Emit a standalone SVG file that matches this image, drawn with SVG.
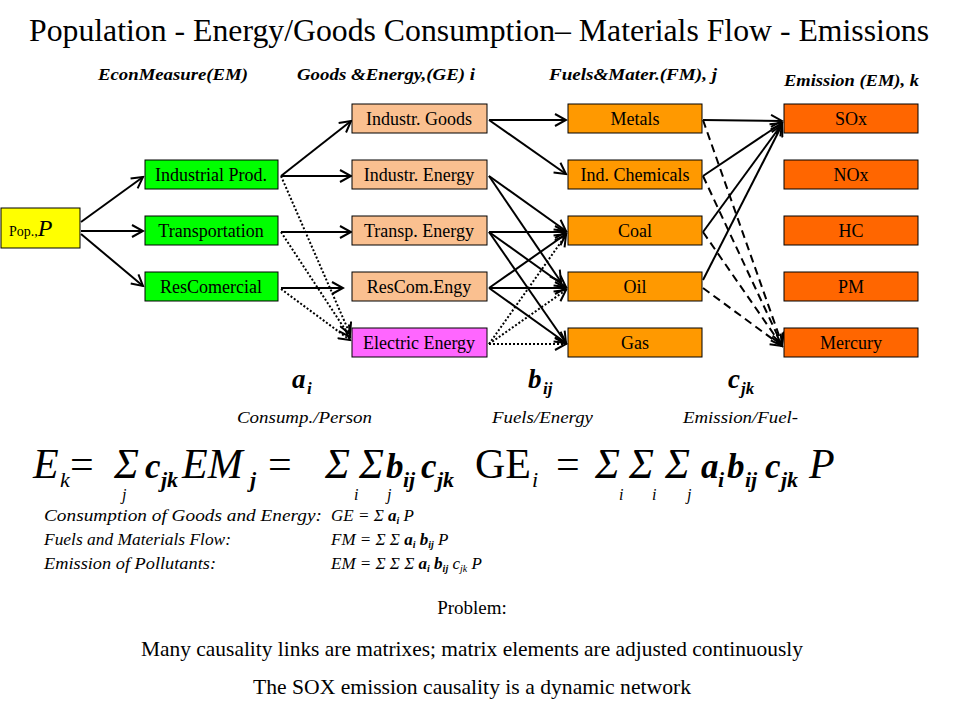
<svg xmlns="http://www.w3.org/2000/svg" width="960" height="720" viewBox="0 0 960 720">
<style>
text{font-family:"Liberation Serif","DejaVu Serif",serif;fill:#000}
.box{stroke:#000;stroke-width:1}
.lbl{font-size:18px;text-anchor:middle}
.hdr{font-size:16px;font-style:italic;font-weight:bold}
.it{font-style:italic}
.bi{font-style:italic;font-weight:bold}
.solid{stroke:#000;stroke-width:2;fill:none;marker-end:url(#arr)}
.dot{stroke:#000;stroke-width:2;fill:none;stroke-dasharray:2,2;marker-end:url(#arr)}
.dash{stroke:#000;stroke-width:2;fill:none;stroke-dasharray:8,5;marker-end:url(#arr)}
.f{font-size:42px}
.fs{font-size:22px}
.fi{font-size:16px;font-style:italic}
.fb{font-size:35px;font-style:italic;font-weight:bold}
.fbs{font-size:22px;font-style:italic;font-weight:bold}
.sm{font-size:17px;font-style:italic}
</style>
<defs>
<marker id="arr" markerUnits="userSpaceOnUse" markerWidth="14" markerHeight="14" refX="12" refY="7" orient="auto">
<path d="M1,1 L12,7 L1,13" fill="none" stroke="#000" stroke-width="2"/>
</marker>
</defs>
<rect width="960" height="720" fill="#fff"/>
<g font-family="Liberation Serif, DejaVu Serif, serif">
<text x="29" y="41" font-size="32" textLength="900" lengthAdjust="spacingAndGlyphs">Population - Energy/Goods Consumption– Materials Flow - Emissions</text>

<text class="hdr" x="98" y="80" textLength="150" lengthAdjust="spacingAndGlyphs">EconMeasure(EM)</text>
<text class="hdr" x="297" y="80" textLength="178" lengthAdjust="spacingAndGlyphs">Goods &amp;Energy,(GE) i</text>
<text class="hdr" x="549" y="80" textLength="168" lengthAdjust="spacingAndGlyphs">Fuels&amp;Mater.(FM), j</text>
<text class="hdr" x="784" y="86" textLength="135" lengthAdjust="spacingAndGlyphs">Emission (EM), k</text>

<g id="connectors">
<line class="solid" x1="81" y1="222" x2="143" y2="177"/>
<line class="solid" x1="81" y1="231" x2="143" y2="231"/>
<line class="solid" x1="81" y1="234" x2="143" y2="286"/>
<line class="solid" x1="281" y1="176" x2="351" y2="121"/>
<line class="solid" x1="281" y1="176" x2="351" y2="176"/>
<line class="solid" x1="281" y1="232" x2="351" y2="232"/>
<line class="solid" x1="281" y1="288" x2="343" y2="288"/>
<line class="solid" x1="489" y1="120" x2="566" y2="120"/>
<line class="solid" x1="489" y1="120" x2="566" y2="174"/>
<line class="solid" x1="489" y1="176" x2="566" y2="231"/>
<line class="solid" x1="489" y1="176" x2="561" y2="282"/>
<line class="solid" x1="489" y1="232" x2="566" y2="232"/>
<line class="solid" x1="489" y1="232" x2="566" y2="287"/>
<line class="solid" x1="489" y1="232" x2="566" y2="343"/>
<line class="solid" x1="489" y1="288" x2="566" y2="234"/>
<line class="solid" x1="489" y1="288" x2="566" y2="288"/>
<line class="solid" x1="489" y1="288" x2="566" y2="343"/>
<line class="solid" x1="703" y1="120" x2="782" y2="121"/>
<line class="solid" x1="703" y1="176" x2="782" y2="123"/>
<line class="solid" x1="703" y1="232" x2="782" y2="124"/>
<line class="solid" x1="703" y1="280" x2="782" y2="125"/>
<line class="dot" x1="281" y1="176" x2="350" y2="334"/>
<line class="dot" x1="281" y1="232" x2="350" y2="337"/>
<line class="dot" x1="281" y1="289" x2="350" y2="340"/>
<line class="dot" x1="489" y1="344" x2="566" y2="235"/>
<line class="dot" x1="489" y1="344" x2="566" y2="290"/>
<line class="dot" x1="489" y1="344" x2="566" y2="344"/>
<line class="dash" x1="703" y1="120" x2="782" y2="344"/>
<line class="dash" x1="703" y1="176" x2="782" y2="345"/>
<line class="dash" x1="703" y1="232" x2="782" y2="346"/>
<line class="dash" x1="703" y1="288" x2="782" y2="346"/>
</g>

<g id="pop"><rect class="box" x="1" y="208" width="79" height="40" fill="#FFFF00"/><text x="9" y="236" font-size="14">Pop.,<tspan class="it" font-size="24">P</tspan></text></g>

<g id="industrial-prod"><rect class="box" x="145" y="160" width="133" height="29" fill="#00FF00"/><text class="lbl" x="211" y="181">Industrial Prod.</text></g>
<g id="transportation"><rect class="box" x="145" y="216" width="133" height="29" fill="#00FF00"/><text class="lbl" x="211" y="237">Transportation</text></g>
<g id="rescomercial"><rect class="box" x="145" y="272" width="133" height="29" fill="#00FF00"/><text class="lbl" x="211" y="293">ResComercial</text></g>

<g id="industr-goods"><rect class="box" x="352" y="104" width="135" height="29" fill="#FAC090"/><text class="lbl" x="419" y="125">Industr. Goods</text></g>
<g id="industr-energy"><rect class="box" x="352" y="160" width="135" height="29" fill="#FAC090"/><text class="lbl" x="419" y="181">Industr. Energy</text></g>
<g id="transp-energy"><rect class="box" x="352" y="216" width="135" height="29" fill="#FAC090"/><text class="lbl" x="419" y="237">Transp. Energy</text></g>
<g id="rescom-engy"><rect class="box" x="352" y="272" width="135" height="29" fill="#FAC090"/><text class="lbl" x="419" y="293">ResCom.Engy</text></g>
<g id="electric-energy"><rect class="box" x="352" y="328" width="135" height="29" fill="#FF66FF"/><text class="lbl" x="419" y="349">Electric Energy</text></g>

<g id="metals"><rect class="box" x="568" y="104" width="134" height="29" fill="#FF9900"/><text class="lbl" x="635" y="125">Metals</text></g>
<g id="ind-chemicals"><rect class="box" x="568" y="160" width="134" height="29" fill="#FF9900"/><text class="lbl" x="635" y="181">Ind. Chemicals</text></g>
<g id="coal"><rect class="box" x="568" y="216" width="134" height="29" fill="#FF9900"/><text class="lbl" x="635" y="237">Coal</text></g>
<g id="oil"><rect class="box" x="568" y="272" width="134" height="29" fill="#FF9900"/><text class="lbl" x="635" y="293">Oil</text></g>
<g id="gas"><rect class="box" x="568" y="328" width="134" height="29" fill="#FF9900"/><text class="lbl" x="635" y="349">Gas</text></g>

<g id="sox"><rect class="box" x="784" y="104" width="134" height="29" fill="#FF6600"/><text class="lbl" x="851" y="125">SOx</text></g>
<g id="nox"><rect class="box" x="784" y="160" width="134" height="29" fill="#FF6600"/><text class="lbl" x="851" y="181">NOx</text></g>
<g id="hc"><rect class="box" x="784" y="216" width="134" height="29" fill="#FF6600"/><text class="lbl" x="851" y="237">HC</text></g>
<g id="pm"><rect class="box" x="784" y="272" width="134" height="29" fill="#FF6600"/><text class="lbl" x="851" y="293">PM</text></g>
<g id="mercury"><rect class="box" x="784" y="328" width="134" height="29" fill="#FF6600"/><text class="lbl" x="851" y="349">Mercury</text></g>

<g id="coefficients">
<text class="bi" x="292" y="388" font-size="27">a</text><text class="bi" x="307" y="394" font-size="17">i</text>
<text class="bi" x="528" y="388" font-size="27">b</text><text class="bi" x="543" y="394" font-size="17">ij</text>
<text class="bi" x="728" y="388" font-size="27">c</text><text class="bi" x="741" y="394" font-size="17">jk</text>
<text class="it" x="237" y="423" font-size="16" textLength="135" lengthAdjust="spacingAndGlyphs">Consump./Person</text>
<text class="it" x="492" y="423" font-size="16" textLength="101" lengthAdjust="spacingAndGlyphs">Fuels/Energy</text>
<text class="it" x="683" y="423" font-size="16" textLength="115" lengthAdjust="spacingAndGlyphs">Emission/Fuel-</text>
</g>

<g id="formula">
<text class="f it" x="33" y="478">E</text>
<text class="fs it" x="60" y="487">k</text>
<text class="f" x="70" y="478">=</text>
<text class="f it" x="114" y="478">Σ</text>
<text class="fi" x="122" y="500">j</text>
<text class="fb" x="145" y="478">c</text>
<text class="fbs" x="161" y="487">jk</text>
<text class="f it" x="182" y="478">EM</text>
<text class="fbs" x="250" y="487">j</text>
<text class="f" x="268" y="478">=</text>
<text class="f it" x="325" y="478">Σ</text>
<text class="fi" x="354" y="500">i</text>
<text class="f it" x="359" y="478">Σ</text>
<text class="fi" x="387" y="500">j</text>
<text class="fb" x="386" y="478">b</text>
<text class="fbs" x="403" y="487">ij</text>
<text class="fb" x="421" y="478">c</text>
<text class="fbs" x="437" y="487">jk</text>
<text class="f" x="475" y="478">GE</text>
<text class="fs it" x="532" y="487">i</text>
<text class="f" x="556" y="478">=</text>
<text class="f it" x="595" y="478">Σ</text>
<text class="fi" x="619" y="500">i</text>
<text class="f it" x="629" y="478">Σ</text>
<text class="fi" x="652" y="500">i</text>
<text class="f it" x="665" y="478">Σ</text>
<text class="fi" x="687" y="500">j</text>
<text class="fb" x="701" y="478">a</text>
<text class="fbs" x="718" y="487">i</text>
<text class="fb" x="727" y="478">b</text>
<text class="fbs" x="745" y="487">ij</text>
<text class="fb" x="765" y="478">c</text>
<text class="fbs" x="781" y="487">jk</text>
<text class="f it" x="809" y="478">P</text>
</g>

<g id="definitions">
<text class="sm" x="44" y="521" textLength="278" lengthAdjust="spacingAndGlyphs">Consumption of Goods and Energy:</text>
<text class="sm" x="44" y="545" textLength="187" lengthAdjust="spacingAndGlyphs">Fuels and Materials Flow:</text>
<text class="sm" x="44" y="569" textLength="172" lengthAdjust="spacingAndGlyphs">Emission of Pollutants:</text>
<text class="sm" x="331" y="521">GE = Σ <tspan font-weight="bold">a</tspan><tspan font-size="10" dy="3" font-weight="bold">i</tspan><tspan dy="-3"> P</tspan></text>
<text class="sm" x="331" y="545">FM = Σ Σ <tspan font-weight="bold">a</tspan><tspan font-size="10" dy="3" font-weight="bold">i</tspan><tspan dy="-3" font-weight="bold"> b</tspan><tspan font-size="10" dy="3" font-weight="bold">ij</tspan><tspan dy="-3"> P</tspan></text>
<text class="sm" x="331" y="569">EM = Σ Σ Σ <tspan font-weight="bold">a</tspan><tspan font-size="10" dy="3" font-weight="bold">i</tspan><tspan dy="-3" font-weight="bold"> b</tspan><tspan font-size="10" dy="3" font-weight="bold">ij</tspan><tspan dy="-3"> c</tspan><tspan font-size="10" dy="3">jk</tspan><tspan dy="-3"> P</tspan></text>
</g>

<g id="notes">
<text x="472" y="614" font-size="19" text-anchor="middle">Problem:</text>
<text x="141" y="656" font-size="21" textLength="662" lengthAdjust="spacingAndGlyphs">Many causality links are matrixes; matrix elements are adjusted continuously</text>
<text x="253" y="694" font-size="21" textLength="438" lengthAdjust="spacingAndGlyphs">The SOX emission causality is a dynamic network</text>
</g>
</g>
</svg>
